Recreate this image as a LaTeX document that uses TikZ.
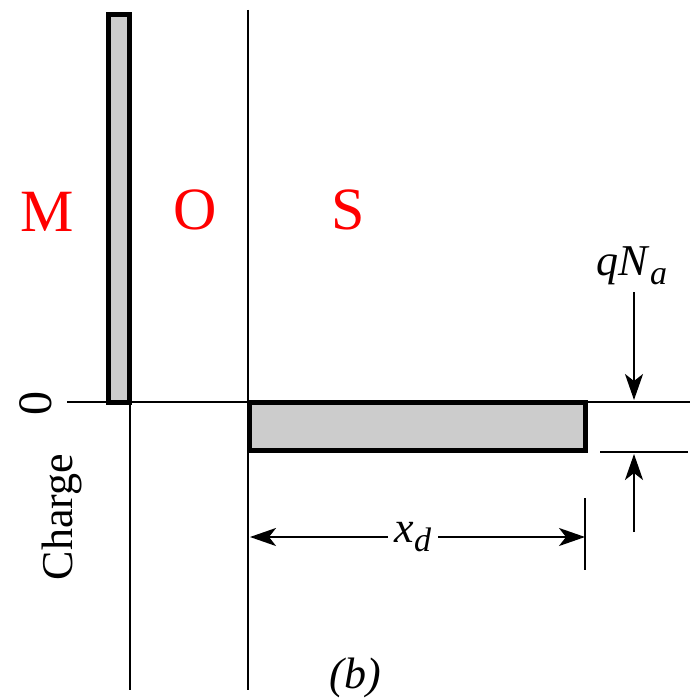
\documentclass[tikz,border=0pt]{standalone}
\usepackage{fontspec}
\setmainfont{Liberation Serif}
\usetikzlibrary{arrows.meta}
\begin{document}
\begin{tikzpicture}[x=0.5pt,y=-0.5pt,
    axisline/.style={line width=1.3pt},
    wall/.style={line width=1pt},
    bar/.style={draw,line width=2.5pt,fill=black!20},
    dim/.style={line width=1.1pt,-{Stealth[length=13pt,width=9pt,inset=3.5pt]}},
    region/.style={text=red,font=\fontsize{30}{34}\selectfont},
    lbl/.style={font=\fontsize{22}{26}\selectfont}]
  \useasboundingbox (0,0) rectangle (690,700);
  % axis and walls
  \coordinate (axL) at (67,402);
  \coordinate (axR) at (690,402);
  \coordinate (mtop) at (129.5,402);
  \coordinate (mbot) at (129.5,690);
  \coordinate (otop) at (248,10);
  \coordinate (obot) at (248,690);
  \draw[axisline] (axL) -- (axR);
  \draw[wall] (mtop) -- (mbot);
  \draw[wall] (otop) -- (obot);
  % charge blocks
  \draw[bar] (108.5,14.5) rectangle (129.5,402);
  \draw[bar] (249.5,402) rectangle (585.5,450.5);
  % labels
  \node[lbl,font=\fontsize{24}{28}\selectfont,rotate=90] (zero) at (36,403) {0};
  \node[lbl,rotate=90] (charge) at (62,517) {Charge};
  \node[region] (M) at (47,212) {M};
  \node[region] (O) at (195,210) {O};
  \node[region] (S) at (348,210) {S};
  % qN_a
  \node[lbl] (qNa) at (632,266) {\textit{qN}\raisebox{-0.45ex}{\fontsize{17}{19}\selectfont\textit{a}}};
  \coordinate (qtop) at (634,400);
  \coordinate (qbot) at (634,454);
  \coordinate (qlow) at (634,532);
  \coordinate (tickL) at (600,452);
  \coordinate (tickR) at (688,452);
  \draw[dim] (qNa.south -| qtop) -- (qtop);
  \draw[dim] (qlow) -- (qbot);
  \draw[wall] (tickL) -- (tickR);
  % x_d
  \node[lbl] (xd) at (413,537) {\textit{x}\raisebox{-0.45ex}{\fontsize{17}{19}\selectfont\textit{d}}};
  \coordinate (xdL) at (250,537);
  \coordinate (xdR) at (585,537);
  \coordinate (endtop) at (585,498);
  \coordinate (endbot) at (585,570);
  \draw[dim] (xd.west) -- (xdL);
  \draw[dim] (xd.east) -- (xdR);
  \draw[wall] (endtop) -- (endbot);
  \node[lbl] (cap) at (355,678) {\textit{(b)}};
\end{tikzpicture}
\end{document}
